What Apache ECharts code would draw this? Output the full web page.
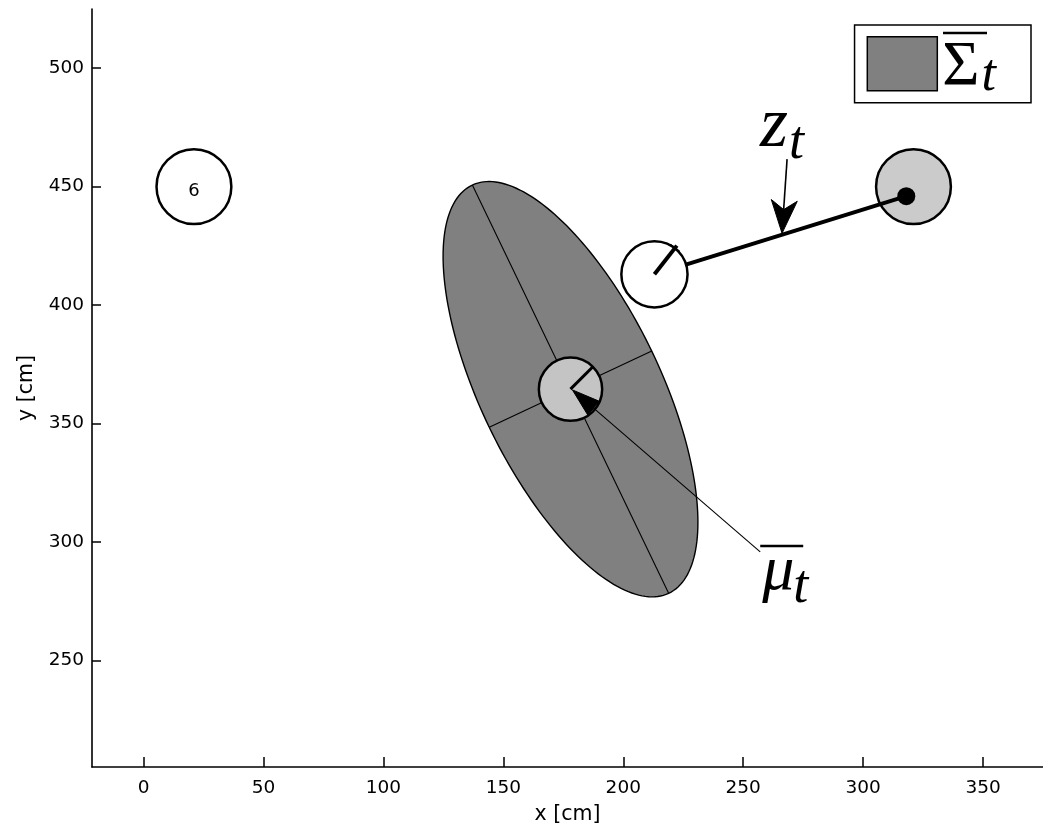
<!DOCTYPE html>
<html><head><meta charset="utf-8">
<script src="https://cdn.jsdelivr.net/npm/echarts@6/dist/echarts.min.js"></script>
<style>html,body{margin:0;padding:0;background:#fff}#chart{width:1043px;height:830px}</style>
</head><body><div id="chart"></div>
<script>
// ---------------- data ----------------
const xTicks = [0, 50, 100, 150, 200, 250, 300, 350];
const yTicks = [250, 300, 350, 400, 450, 500];
const xRange = [-21.5, 375];
const yRange = [205, 525];

const landmarkX = [21, 321];
const landmarkY = [450, 450];
const landmarkId = ['6', ''];
const landmarkRadius = [15.6, 15.6];

const robotPose = [213, 413, 52];          // x, y, heading (deg)
const robotRadius = 13.8;
const muBarPose = [178, 364.5, 45];        // predicted mean x, y, heading (deg)
const muBarRadius = 13.2;
const sigmaEllipse = [95.4, 37.5, 115.4];  // semi-major, semi-minor, orientation (deg)
const measuredLandmark = [318, 446];

const zArrow = [[268.3, 461.6], [266.2, 430.3]];   // tail, tip
const muArrow = [[257.1, 295.8], [178.8, 364.2]];  // tail, tip
const legendName = 'Σt';

// ---------------- helpers ----------------
const SERIF = 'Liberation Serif';
function arrowHead(tail, tip, len, hw, notch, color) {
  const dx = tip[0] - tail[0], dy = tip[1] - tail[1];
  const d = Math.hypot(dx, dy), ux = dx / d, uy = dy / d, nx = -uy, ny = ux;
  const bx = tip[0] - len * ux, by = tip[1] - len * uy;
  const cx = tip[0] - notch * len * ux, cy = tip[1] - notch * len * uy;
  return {
    poly: {type: 'polygon', shape: {points: [tip, [bx + hw * nx, by + hw * ny], [cx, cy], [bx - hw * nx, by - hw * ny]]},
      style: {fill: color, stroke: color, lineWidth: 1}},
    lineEnd: [cx, cy]
  };
}

const chart = echarts.init(document.getElementById('chart'), null, {renderer: 'canvas'});

const option = {
  animation: false,
  backgroundColor: '#fff',
  grid: {left: 92, right: 0, top: 9, bottom: 63, containLabel: false, outerBoundsMode: 'none'},
  xAxis: {
    type: 'value', min: xRange[0], max: xRange[1],
    name: 'x [cm]', nameLocation: 'middle', nameGap: 37,
    nameTextStyle: {fontFamily: 'DejaVu Sans', fontSize: 20.5, color: '#000'},
    axisLine: {onZero: false, lineStyle: {color: '#000', width: 1.6}},
    axisTick: {inside: true, length: 10, customValues: xTicks, lineStyle: {color: '#000', width: 1.5}},
    axisLabel: {customValues: xTicks, color: '#000', fontFamily: 'DejaVu Sans', fontSize: 18.5, margin: 12},
    splitLine: {show: false}
  },
  yAxis: {
    type: 'value', min: yRange[0], max: yRange[1],
    name: 'y [cm]', nameLocation: 'middle', nameGap: 55, nameRotate: 90,
    nameTextStyle: {fontFamily: 'DejaVu Sans', fontSize: 20.5, color: '#000'},
    axisLine: {onZero: false, lineStyle: {color: '#000', width: 1.6}},
    axisTick: {inside: true, length: 9, customValues: yTicks, lineStyle: {color: '#000', width: 1.5}},
    axisLabel: {customValues: yTicks, color: '#000', fontFamily: 'DejaVu Sans', fontSize: 18.5, margin: 8},
    splitLine: {show: false}
  },
  legend: {
    right: 12, top: 25, orient: 'vertical', icon: 'rect',
    itemWidth: 70, itemHeight: 54, itemGap: 0,
    padding: [11, 35, 0, 12],
    borderColor: '#000', borderWidth: 1.5, backgroundColor: '#fff',
    selectedMode: false,
    data: [{name: legendName, itemStyle: {color: '#808080', borderColor: '#000', borderWidth: 1.5}}],
    formatter: () => '{s|Σ}{t|t}',
    textStyle: {
      color: '#000',
      rich: {
        s: {fontFamily: SERIF, fontSize: 64, lineHeight: 54, height: 45, verticalAlign: 'bottom', color: '#000'},
        t: {fontFamily: SERIF, fontStyle: 'italic', fontSize: 52, lineHeight: 54, height: 28, verticalAlign: 'bottom', padding: [0, 0, 0, 2], color: '#000'}
      }
    }
  },
  graphic: [
    {type: 'line', z: 100, shape: {x1: 943, y1: 33, x2: 987, y2: 33}, style: {stroke: '#000', lineWidth: 2.5}}
  ],
  series: [
    // landmarks
    {
      type: 'custom', name: 'landmarks', coordinateSystem: 'cartesian2d',
      data: landmarkX.map((x, i) => [x, landmarkY[i], landmarkRadius[i]]),
      renderItem(params, api) {
        const c = api.coord([api.value(0), api.value(1)]);
        const r = api.size([api.value(2), 0])[0];
        const i = params.dataIndex;
        const children = [{type: 'circle', shape: {cx: c[0], cy: c[1], r: r},
          style: {fill: i === 0 ? '#fff' : '#cbcbcb', stroke: '#000', lineWidth: 2.5}}];
        if (landmarkId[i]) children.push({type: 'text', x: c[0], y: c[1] + 5,
          style: {text: landmarkId[i], fill: '#000', font: '18px "DejaVu Sans"', align: 'center', verticalAlign: 'middle'}});
        return {type: 'group', children};
      }
    },
    // covariance ellipse
    {
      type: 'custom', name: legendName, coordinateSystem: 'cartesian2d',
      itemStyle: {color: '#808080'},
      data: [[muBarPose[0], muBarPose[1], sigmaEllipse[0], sigmaEllipse[1], sigmaEllipse[2]]],
      renderItem(params, api) {
        const cx = api.value(0), cy = api.value(1), a = api.value(2), b = api.value(3);
        const th = api.value(4) * Math.PI / 180, ct = Math.cos(th), st = Math.sin(th);
        const pts = [];
        for (let k = 0; k < 200; k++) {
          const t = k / 200 * 2 * Math.PI;
          pts.push(api.coord([cx + a * Math.cos(t) * ct - b * Math.sin(t) * st,
                              cy + a * Math.cos(t) * st + b * Math.sin(t) * ct]));
        }
        const p1 = api.coord([cx - a * ct, cy - a * st]), p2 = api.coord([cx + a * ct, cy + a * st]);
        const q1 = api.coord([cx + b * st, cy - b * ct]), q2 = api.coord([cx - b * st, cy + b * ct]);
        return {type: 'group', children: [
          {type: 'polygon', shape: {points: pts}, style: {fill: '#808080', stroke: '#000', lineWidth: 1.4}},
          {type: 'line', shape: {x1: p1[0], y1: p1[1], x2: p2[0], y2: p2[1]}, style: {stroke: '#000', lineWidth: 1.1}},
          {type: 'line', shape: {x1: q1[0], y1: q1[1], x2: q2[0], y2: q2[1]}, style: {stroke: '#000', lineWidth: 1.1}}
        ]};
      }
    },
    // predicted mean pose
    {
      type: 'custom', name: 'muBar', coordinateSystem: 'cartesian2d',
      data: [muBarPose],
      renderItem(params, api) {
        const c = api.coord([api.value(0), api.value(1)]);
        const r = api.size([muBarRadius, 0])[0];
        const h = api.value(2) * Math.PI / 180;
        return {type: 'group', children: [
          {type: 'circle', shape: {cx: c[0], cy: c[1], r: r}, style: {fill: '#c4c4c4', stroke: '#000', lineWidth: 2.5}},
          {type: 'line', shape: {x1: c[0], y1: c[1], x2: c[0] + r * Math.cos(h), y2: c[1] - r * Math.sin(h)}, style: {stroke: '#000', lineWidth: 3}}
        ]};
      }
    },
    // measurement z_t
    {
      type: 'custom', name: 'measurement', coordinateSystem: 'cartesian2d',
      data: [[robotPose[0], robotPose[1], measuredLandmark[0], measuredLandmark[1]]],
      renderItem(params, api) {
        const a = api.coord([api.value(0), api.value(1)]), b = api.coord([api.value(2), api.value(3)]);
        return {type: 'group', children: [
          {type: 'line', shape: {x1: a[0], y1: a[1], x2: b[0], y2: b[1]}, style: {stroke: '#000', lineWidth: 4}},
          {type: 'circle', shape: {cx: b[0], cy: b[1], r: 9}, style: {fill: '#000'}}
        ]};
      }
    },
    // robot
    {
      type: 'custom', name: 'robot', coordinateSystem: 'cartesian2d',
      data: [robotPose],
      renderItem(params, api) {
        const c = api.coord([api.value(0), api.value(1)]);
        const r = api.size([robotRadius, 0])[0];
        const h = api.value(2) * Math.PI / 180, ux = Math.cos(h), uy = -Math.sin(h);
        const ex = c[0] + r * 1.1 * ux, ey = c[1] + r * 1.1 * uy;
        const tx = c[0] + r * ux, ty = c[1] + r * uy;
        return {type: 'group', children: [
          {type: 'circle', shape: {cx: c[0], cy: c[1], r: r}, style: {fill: '#fff', stroke: '#000', lineWidth: 2.5}},
          {type: 'line', shape: {x1: c[0], y1: c[1], x2: ex, y2: ey}, style: {stroke: '#000', lineWidth: 4}},
          {type: 'line', shape: {x1: tx - 6 * uy, y1: ty + 6 * ux, x2: tx + 6 * uy, y2: ty - 6 * ux}, style: {stroke: '#000', lineWidth: 2}}
        ]};
      }
    },
    // annotations
    {
      type: 'custom', name: 'annotations', coordinateSystem: 'cartesian2d',
      data: [[zArrow[0][0], zArrow[0][1], zArrow[1][0], zArrow[1][1]],
             [muArrow[0][0], muArrow[0][1], muArrow[1][0], muArrow[1][1]]],
      renderItem(params, api) {
        const tail = api.coord([api.value(0), api.value(1)]), tip = api.coord([api.value(2), api.value(3)]);
        if (params.dataIndex === 0) {
          const ah = arrowHead(tail, tip, 33, 13, 0.72, '#000');
          return {type: 'group', children: [
            {type: 'line', shape: {x1: tail[0], y1: tail[1], x2: ah.lineEnd[0], y2: ah.lineEnd[1]}, style: {stroke: '#000', lineWidth: 1.6}},
            ah.poly,
            {type: 'text', x: tail[0] - 27, y: tail[1] - 32, style: {text: 'z', font: 'italic 72px "Liberation Serif"', fill: '#000', align: 'left', verticalAlign: 'middle'}},
            {type: 'text', x: tail[0] + 2, y: tail[1] - 15, style: {text: 't', font: 'italic 54px "Liberation Serif"', fill: '#000', align: 'left', verticalAlign: 'middle'}}
          ]};
        }
        const ah = arrowHead(tail, tip, 28, 9, 1, '#000');
        return {type: 'group', children: [
          {type: 'line', shape: {x1: tail[0], y1: tail[1], x2: ah.lineEnd[0], y2: ah.lineEnd[1]}, style: {stroke: '#000', lineWidth: 1.1}},
          ah.poly,
          {type: 'line', shape: {x1: tail[0], y1: tail[1] - 6, x2: tail[0] + 43, y2: tail[1] - 6}, style: {stroke: '#000', lineWidth: 2.5}},
          {type: 'text', x: tail[0] + 2, y: tail[1] + 20, style: {text: 'μ', font: 'italic 64px "Liberation Serif"', fill: '#000', align: 'left', verticalAlign: 'middle'}},
          {type: 'text', x: tail[0] + 33, y: tail[1] + 36, style: {text: 't', font: 'italic 54px "Liberation Serif"', fill: '#000', align: 'left', verticalAlign: 'middle'}}
        ]};
      }
    }
  ]
};
chart.setOption(option);
</script>
</body></html>
